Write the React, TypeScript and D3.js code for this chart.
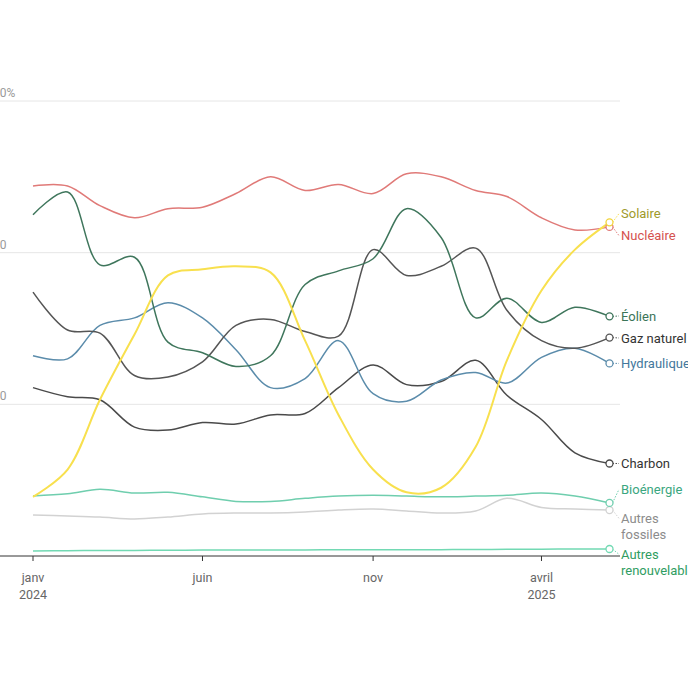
import * as d3 from "d3";

// monthly shares (%) jan 2024 -> jun 2025
const months = [
  "2024-01", "2024-02", "2024-03", "2024-04", "2024-05", "2024-06",
  "2024-07", "2024-08", "2024-09", "2024-10", "2024-11", "2024-12",
  "2025-01", "2025-02", "2025-03", "2025-04", "2025-05", "2025-06",
];

const nucleaire = [24.4, 24.4, 23.1, 22.3, 22.9, 23.0, 23.9, 25.0, 24.1, 24.5, 23.9, 25.2, 25.0, 24.1, 23.7, 22.3, 21.5, 21.7];
const eolien = [22.5, 24.0, 19.2, 19.7, 14.1, 13.4, 12.5, 13.2, 17.9, 18.8, 19.6, 22.9, 21.0, 15.7, 17.0, 15.4, 16.4, 15.8];
const solaire = [3.9, 5.7, 10.3, 14.6, 18.5, 18.9, 19.1, 18.7, 14.2, 9.3, 5.7, 4.2, 4.5, 7.2, 12.9, 17.5, 20.2, 22.0];
const gaz = [17.4, 14.9, 14.7, 11.9, 11.8, 12.8, 15.2, 15.6, 14.8, 14.5, 20.2, 18.5, 19.1, 20.3, 16.2, 14.2, 13.7, 14.4];
const hydraulique = [13.2, 13.0, 15.2, 15.7, 16.7, 15.7, 13.6, 11.1, 11.7, 14.2, 10.7, 10.2, 11.6, 12.1, 11.4, 13.1, 13.7, 12.7];
const charbon = [11.1, 10.5, 10.3, 8.5, 8.3, 8.8, 8.7, 9.3, 9.4, 11.1, 12.6, 11.3, 11.5, 12.9, 10.6, 9.0, 6.8, 6.1];
const bioenergie = [3.96, 4.1, 4.4, 4.15, 4.2, 3.9, 3.6, 3.6, 3.8, 3.95, 4.0, 3.95, 3.9, 3.95, 4.0, 4.15, 3.95, 3.5];
const autresFossiles = [2.7, 2.64, 2.57, 2.44, 2.57, 2.77, 2.83, 2.83, 2.9, 3.03, 3.1, 2.97, 2.83, 2.97, 3.8, 3.2, 3.1, 3.03];
const autresRenouv = [0.33, 0.35, 0.36, 0.37, 0.38, 0.39, 0.39, 0.4, 0.4, 0.41, 0.41, 0.42, 0.42, 0.43, 0.44, 0.45, 0.46, 0.46];

const yTicks = [10, 20, 30];
const xTicks = [
  { date: "2024-01", label: ["janv", "2024"] },
  { date: "2024-06", label: ["juin"] },
  { date: "2024-11", label: ["nov"] },
  { date: "2025-04", label: ["avril", "2025"] },
];

const series = [
  { name: ["Autres", "renouvelables"], values: autresRenouv, line: "#72d9b3", text: "#2f9d62", w: 1.5 },
  { name: ["Autres", "fossiles"], values: autresFossiles, line: "#d2d2d2", text: "#8c8c8c", w: 1.5 },
  { name: ["Bioénergie"], values: bioenergie, line: "#6fceae", text: "#3aa680", w: 1.5 },
  { name: ["Charbon"], values: charbon, line: "#4a4a4a", text: "#333333", w: 1.5 },
  { name: ["Hydraulique"], values: hydraulique, line: "#5b8cab", text: "#44789c", w: 1.5 },
  { name: ["Gaz naturel"], values: gaz, line: "#555555", text: "#333333", w: 1.5 },
  { name: ["Éolien"], values: eolien, line: "#3f765c", text: "#3b7558", w: 1.5 },
  { name: ["Nucléaire"], values: nucleaire, line: "#e07a78", text: "#d5524f", w: 1.5 },
  { name: ["Solaire"], values: solaire, line: "#f8e04e", text: "#a09a2b", w: 2 },
];

const parse = d3.timeParse("%Y-%m");
const W = 688;
const H = 688;
const FONT = "Roboto, 'Noto Sans', sans-serif";

// simple label dodge: groups overlapping labels around their mean target
function dodge(items: { target: number; h: number }[]) {
  const order = items.map((d, i) => ({ ...d, i })).sort((a, b) => a.target - b.target);
  type Grp = { members: typeof order; start: number };
  const groups: Grp[] = [];
  const place = (g: Grp) => {
    const offs: number[] = [0];
    for (let k = 1; k < g.members.length; k++)
      offs.push(offs[k - 1] + g.members[k - 1].h / 2 + g.members[k].h / 2);
    g.start = d3.mean(g.members, (m, k) => m.target - offs[k]) as number;
    return offs;
  };
  for (const m of order) {
    let g: Grp = { members: [m], start: m.target };
    while (groups.length) {
      const prev = groups[groups.length - 1];
      const po = place(prev);
      const last = prev.members[prev.members.length - 1];
      const prevEnd = prev.start + po[po.length - 1] + last.h / 2;
      place(g);
      if (g.start - g.members[0].h / 2 < prevEnd) {
        g = { members: [...prev.members, ...g.members], start: 0 };
        groups.pop();
      } else break;
    }
    place(g);
    groups.push(g);
  }
  const out: number[] = new Array(items.length);
  for (const g of groups) {
    const o = place(g);
    g.members.forEach((m, k) => (out[m.i] = g.start + o[k]));
  }
  return out;
}

export default function App() {
  const x = d3
    .scaleTime()
    .domain([parse("2024-01")!, parse("2025-06")!])
    .range([33, 609.5]);
  const y = d3.scaleLinear().domain([0, 30]).range([556, 101]);
  const dates = months.map((m) => parse(m)!);

  const line = d3
    .line<number>()
    .x((_, i) => x(dates[i]))
    .y((d) => y(d))
    .curve(d3.curveCatmullRom);

  const lastX = x(dates[dates.length - 1]);
  const labelY = dodge(
    series.map((s) => ({ target: y(s.values[s.values.length - 1]), h: s.name.length > 1 ? 36 : 22 }))
  );

  return (
    <div style={{ position: "absolute", left: 0, top: 0 }}>
      <svg width={W} height={H} style={{ display: "block", fontFamily: FONT }}>
        <rect width={W} height={H} fill="#fff" />
        {yTicks.map((t) => (
          <g key={t}>
            <line x1={0} x2={620} y1={y(t)} y2={y(t)} stroke="#e6e6e6" strokeWidth={1} />
            <text x={-7} y={y(t) - 4} fontSize={12} fill="#9a9a9a">
              {t === 30 ? `${t}%` : t}
            </text>
          </g>
        ))}
        <line x1={0} x2={620} y1={y(0)} y2={y(0)} stroke="#333" strokeWidth={1} />
        {xTicks.map((t) => {
          const px = x(parse(t.date)!);
          return (
            <g key={t.date}>
              <line x1={px} x2={px} y1={y(0)} y2={y(0) + 5} stroke="#333" />
              {t.label.map((l, k) => (
                <text key={l} x={px} y={582 + k * 17} fontSize={12.5} fill="#666" textAnchor="middle">
                  {l}
                </text>
              ))}
            </g>
          );
        })}
        {series.map((s) => (
          <path key={s.name.join(" ")} d={line(s.values) ?? ""} fill="none" stroke={s.line} strokeWidth={s.w} />
        ))}
        {series.map((s, i) => {
          const ly = y(s.values[s.values.length - 1]);
          const ty = labelY[i];
          return (
            <g key={"lab" + i}>
              <line x1={lastX + 3} y1={ly} x2={619} y2={ty} stroke={s.line} strokeWidth={1} strokeDasharray="1.5,1.5" />
              <circle cx={lastX} cy={ly} r={3.5} fill="#fff" stroke={s.line === "#f8e04e" ? "#f2d43a" : s.line} strokeWidth={1.3} />
              {s.name.map((n, k) => (
                <text key={n} x={621} y={ty + k * 16} dy="0.35em" fontSize={13} fill={s.text}>
                  {n}
                </text>
              ))}
            </g>
          );
        })}
      </svg>
    </div>
  );
}
